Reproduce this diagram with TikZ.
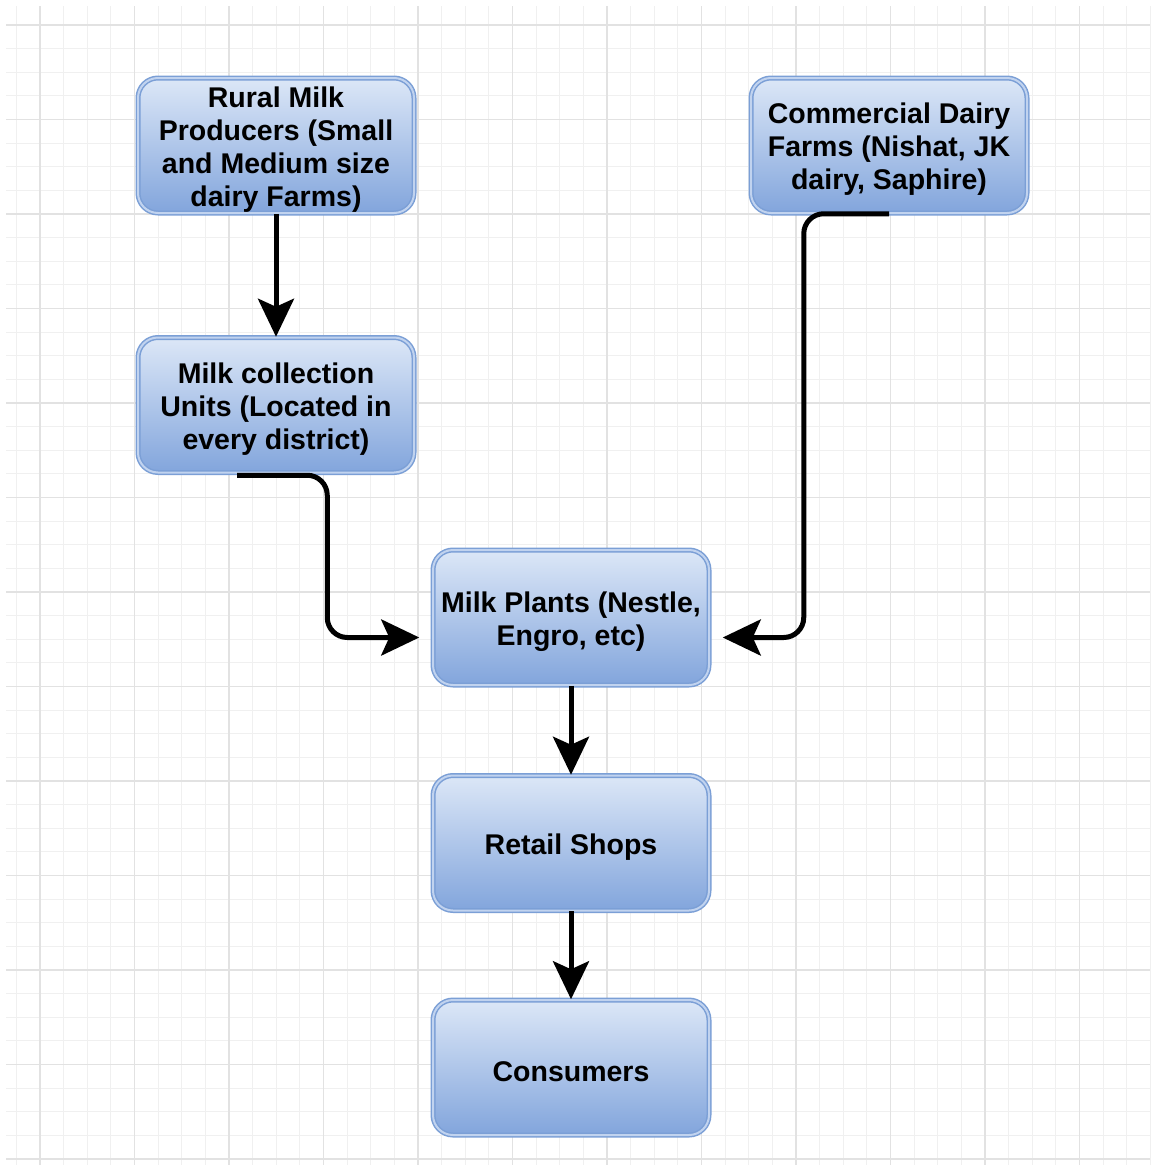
\documentclass[tikz,border=0pt]{standalone}
\usepackage{fontspec}
\setmainfont{Liberation Sans}
\usetikzlibrary{arrows.meta,calc}
\definecolor{gridminor}{HTML}{F0F0F0}
\definecolor{gridmajor}{HTML}{E2E2E2}
\definecolor{boxtop}{HTML}{DCE7F7}
\definecolor{boxbottom}{HTML}{82A5DC}
\definecolor{boxline}{HTML}{7B9FD6}
\begin{document}
\begin{tikzpicture}[x=1pt,y=-1pt,
  box/.style={rounded corners=20pt, minimum width=276pt, minimum height=135pt,
    top color=boxtop, bottom color=boxbottom, draw=boxline, line width=1.5pt,
    double=boxtop!70!boxbottom, double distance=2pt, inner sep=0pt},
  lbl/.style={align=center, font=\fontsize{28.5}{33}\selectfont\bfseries,
    inner sep=0pt, yshift=-4pt},
  conn/.style={line width=5pt, black, rounded corners=20pt,
    -{Stealth[length=38pt,width=36pt,inset=8pt]}}]
\useasboundingbox (0,0) rectangle (1153,1167);
\fill[white] (0,0) rectangle (1153,1167);
% grid
\foreach \i in {-1,...,48} {
  \pgfmathsetmacro\gx{40+23.625*\i}
  \ifdim\gx pt>5pt \ifdim\gx pt<1151pt
    \draw[gridminor, line width=1pt] (\gx,6) -- (\gx,1165);
  \fi\fi
}
\foreach \i in {-1,...,49} {
  \pgfmathsetmacro\gy{25+23.625*\i}
  \ifdim\gy pt>5pt \ifdim\gy pt<1166pt
    \draw[gridminor, line width=1pt] (6,\gy) -- (1150,\gy);
  \fi\fi
}
\foreach \i in {0,...,11} {
  \pgfmathsetmacro\gx{40+94.5*\i}
  \draw[gridmajor, line width=1.3pt] (\gx,6) -- (\gx,1165);
}
\foreach \i in {0,...,12} {
  \pgfmathsetmacro\gy{25+94.5*\i}
  \draw[gridmajor, line width=1.3pt] (6,\gy) -- (1150,\gy);
}
% nodes
\node[box, label={[lbl]center:Rural Milk\\Producers (Small\\and Medium size\\dairy Farms)}] (rural) at (276,145.5) {};
\node[box, label={[lbl]center:Commercial Dairy\\Farms (Nishat, JK\\dairy, Saphire)}] (comm) at (889,145.5) {};
\node[box, label={[lbl]center:Milk collection\\Units (Located in\\every district)}] (coll) at (276,405) {};
\node[box, label={[lbl]center:Milk Plants (Nestle,\\Engro, etc)}] (plants) at (571,617.5) {};
\node[box, label={[lbl]center:Retail Shops}] (retail) at (571,843) {};
\node[box, label={[lbl]center:Consumers}] (cons) at (571,1067.5) {};
% connectors
\coordinate (c1) at ($(coll.south west)!0.36!(coll.south east)+(0,2)$);
\coordinate (p1) at ($(plants.west)+(-13,20)$);
\coordinate (p2) at ($(plants.east)+(13,20)$);
\draw[conn] (rural.south) -- (coll.north);
\draw[conn] (c1) -| ([xshift=-92pt]p1) -- (p1);
\draw[conn] (comm.south) -| ([xshift=81pt]p2) -- (p2);
\draw[conn] (plants.south) -- (retail.north);
\draw[conn] (retail.south) -- (cons.north);
\end{tikzpicture}
\end{document}
